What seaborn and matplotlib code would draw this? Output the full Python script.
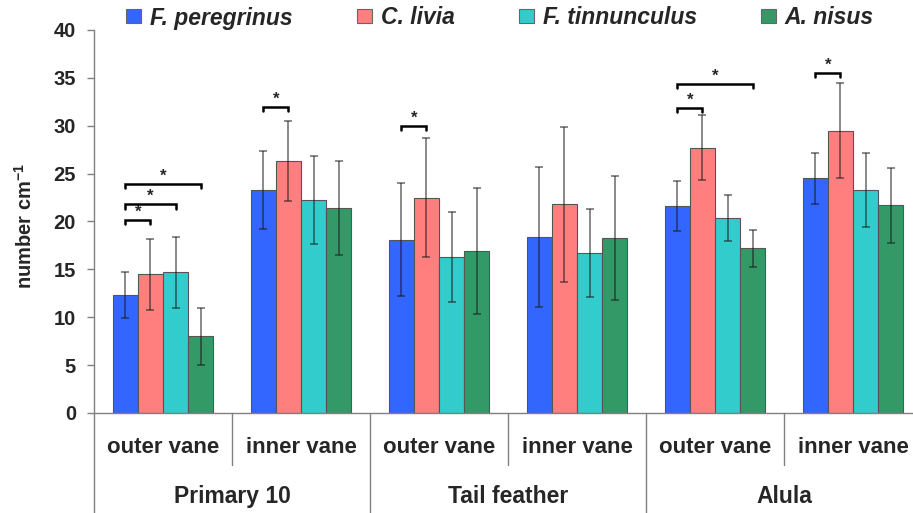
import matplotlib
matplotlib.use("Agg")
import matplotlib.pyplot as plt
import matplotlib.transforms as mtransforms
from matplotlib.patches import Patch
from matplotlib.font_manager import FontProperties
import pandas as pd
import seaborn as sns

# Feather barb density per feather region and vane, four bird species
species = ["F. peregrinus", "C. livia", "F. tinnunculus", "A. nisus"]
regions = ["Primary 10", "Tail feather", "Alula"]
vanes = ["outer vane", "inner vane"]

mean_peregrinus = [12.3, 23.3, 18.1, 18.4, 21.6, 24.5]
mean_livia = [14.5, 26.3, 22.5, 21.8, 27.7, 29.5]
mean_tinnunculus = [14.7, 22.2, 16.3, 16.7, 20.4, 23.3]
mean_nisus = [8.0, 21.4, 16.9, 18.3, 17.2, 21.7]

sd_peregrinus = [2.4, 4.1, 5.9, 7.3, 2.6, 2.7]
sd_livia = [3.7, 4.2, 6.2, 8.1, 3.4, 5.0]
sd_tinnunculus = [3.7, 4.6, 4.7, 4.6, 2.4, 3.9]
sd_nisus = [3.0, 4.9, 6.6, 6.5, 1.95, 3.9]

# significant pairs: (category index, species a, species b, bracket height)
sig_category = [0, 0, 0, 1, 2, 4, 4, 5]
sig_first = [0, 0, 0, 0, 0, 0, 0, 0]
sig_second = [1, 2, 3, 1, 1, 1, 3, 1]
sig_height = [20.2, 21.8, 23.9, 32.0, 30.0, 31.9, 34.4, 35.5]

colors = ["#3366FF", "#FF7F7F", "#33CCCC", "#339966"]

means = [mean_peregrinus, mean_livia, mean_tinnunculus, mean_nisus]
sds = [sd_peregrinus, sd_livia, sd_tinnunculus, sd_nisus]
categories = [f"{r} {v}" for r in regions for v in vanes]

rows = []
for s, m_list, sd_list in zip(species, means, sds):
    for c, m, sd in zip(categories, m_list, sd_list):
        rows.append({"category": c, "species": s, "value": m, "sd": sd})
df = pd.DataFrame(rows)

sns.set_style("white")
plt.rcParams["font.family"] = ["Liberation Sans", "DejaVu Sans"]
plt.rcParams["mathtext.fontset"] = "custom"
plt.rcParams["mathtext.rm"] = "Liberation Sans"
plt.rcParams["mathtext.bf"] = "Liberation Sans:bold"

W, H = 913, 513
fig = plt.figure(figsize=(W / 100, H / 100), dpi=100)
ax_left, ax_bottom, ax_w, ax_h = 94, 100, 819, 383
ax = fig.add_axes([ax_left / W, ax_bottom / H, ax_w / W, ax_h / H])

sns.barplot(data=df, x="category", y="value", hue="species",
            order=categories, hue_order=species, palette=colors,
            width=0.73, errorbar=None, edgecolor="#555555", linewidth=0.8,
            saturation=1, legend=False, ax=ax)

# error bars centred on each bar
centers = []
for cont, sd_list in zip(ax.containers, sds):
    xs = [b.get_x() + b.get_width() / 2 for b in cont]
    ys = [b.get_height() for b in cont]
    centers.append(xs)
    ax.errorbar(xs, ys, yerr=sd_list, fmt="none", ecolor=(0.1, 0.1, 0.1, 0.6),
                elinewidth=1.2, capsize=2.6, capthick=1.2, zorder=5)

# significance brackets
leg = 0.45
for c, a, b, h in zip(sig_category, sig_first, sig_second, sig_height):
    x1, x2 = centers[a][c], centers[b][c]
    ax.plot([x1, x1, x2, x2], [h - leg, h, h, h - leg], color="black",
            lw=1.8, solid_joinstyle="miter", zorder=6, clip_on=False)
    ax.text((x1 + x2) / 2, h + 0.02, "*", ha="center", va="bottom",
            fontsize=12, fontweight="bold", zorder=6)

ax.set_ylim(0, 40)
ax.set_xlim(-0.5, 5.5 - 9 / 138)
ax.set_yticks(range(0, 41, 5))
ax.tick_params(axis="y", which="both", left=True, length=5, width=1,
               color="#808080", pad=8, labelsize=14.5)
for lbl in ax.get_yticklabels():
    lbl.set_fontweight("bold")
ax.set_xticks([])
ax.set_xlabel("")
ax.set_ylabel("")
for side in ["top", "right"]:
    ax.spines[side].set_visible(False)
for side in ["left", "bottom"]:
    ax.spines[side].set_color("#808080")
    ax.spines[side].set_linewidth(1)

trans = mtransforms.blended_transform_factory(ax.transData, ax.transAxes)

# category separators below the axis
for x in [0.5, 2.5, 4.5]:
    ax.plot([x, x], [0, -0.135], transform=trans, clip_on=False,
            color="#808080", lw=1)
for x in [-0.5, 1.5, 3.5]:
    ax.plot([x, x], [0, -0.27], transform=trans, clip_on=False,
            color="#808080", lw=1)

for i in range(len(categories)):
    ax.text(i, -0.089, vanes[i % 2], transform=trans, ha="center",
            va="center", fontsize=16, fontweight="bold")
for k, r in enumerate(regions):
    ax.text(2 * k + 0.5, -0.217, r, transform=trans, ha="center",
            va="center", fontsize=16.5, fontweight="bold")

fig.text(25 / W, 1 - 226 / H, r"number cm$^{\mathbf{-1}}$", rotation=90,
         ha="center", va="center", fontsize=14.5, fontweight="bold")

handles = [Patch(facecolor=c, edgecolor="#666666", linewidth=0.8) for c in colors]
fig.legend(handles, species, loc="center", bbox_to_anchor=(500 / W, 1 - 18 / H),
           ncol=4, frameon=False,
           prop=FontProperties(family="Liberation Sans", weight="bold",
                               style="italic", size=16.5),
           handlelength=0.655, handleheight=0.57, handletextpad=0.39,
           columnspacing=2.8, borderpad=0, borderaxespad=0)

fig.savefig("out.png", dpi=100)
